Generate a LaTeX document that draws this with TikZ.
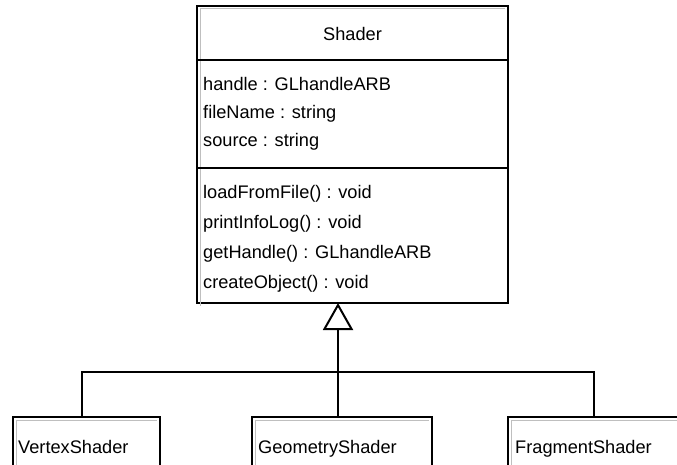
\documentclass[tikz,border=0pt]{standalone}
\usepackage{fontspec}
\setmainfont{Liberation Sans}
\usetikzlibrary{arrows.meta}
\begin{document}
\begin{tikzpicture}[x=1pt,y=-1pt,
  umlbox/.style={draw=black, line width=2pt, fill=white, anchor=north west, inner sep=0pt, outer sep=0pt},
  txt/.style={anchor=base west, inner sep=0pt, font=\fontsize{18.2}{20}\selectfont},
  conn/.style={draw=black, line width=2pt},
  inner/.style={draw=black!25, line width=1pt}]
\useasboundingbox (0,0) rectangle (677,465);
\clip (0,0) rectangle (677,465);
% Shader class
\node[umlbox, minimum width=311pt, minimum height=297pt] (shader) at (197,6) {};
\draw[inner] ([xshift=3pt,yshift=-3pt]shader.south west) -- ([xshift=3pt,yshift=-3pt]shader.north west) -- ([xshift=-3pt,yshift=-3pt]shader.north east);
\draw[conn] (197,60) -- (508,60);
\draw[conn] (197,168) -- (508,168);
\node[txt, anchor=base] (title) at (352.5,41) {Shader};
\node[txt] (a1) at (203,91) {handle : GLhandleARB};
\node[txt] (a2) at (203,119) {fileName : string};
\node[txt] (a3) at (203,147) {source : string};
\node[txt] (m1) at (203,199) {loadFromFile() : void};
\node[txt] (m2) at (203,228) {printInfoLog() : void};
\node[txt] (m3) at (203,258) {getHandle() : GLhandleARB};
\node[txt] (m4) at (203,288) {createObject() : void};
% subclasses
\node[umlbox, minimum width=147pt, minimum height=80pt] (vs) at (13,417) {};
\node[umlbox, minimum width=180pt, minimum height=80pt] (gs) at (252,417) {};
\node[umlbox, minimum width=190pt, minimum height=80pt] (fs) at (508,417) {};
\foreach \b in {vs,gs,fs}{
  \draw[inner] ([xshift=3pt,yshift=-3pt]\b.south west) -- ([xshift=3pt,yshift=-3pt]\b.north west) -- ([xshift=-3pt,yshift=-3pt]\b.north east);
}
\node[txt] (vst) at (18,453) {VertexShader};
\node[txt] (gst) at (258,453) {GeometryShader};
\node[txt] (fst) at (515,453) {FragmentShader};
% connectors
\coordinate (hub) at (338,372);
\coordinate (vsj) at (vs.north -| 82,0);
\coordinate (gsj) at (gs.north -| 338,0);
\coordinate (fsj) at (fs.north -| 594,0);
\draw[conn] (vsj) -- (82,372) -- (594,372) -- (fsj);
\draw[conn] (gsj) -- (hub);
\draw[conn, -{Triangle[open, width=30pt, length=27pt, line width=2pt]}] (hub) -- (shader.south -| hub);
\end{tikzpicture}
\end{document}
